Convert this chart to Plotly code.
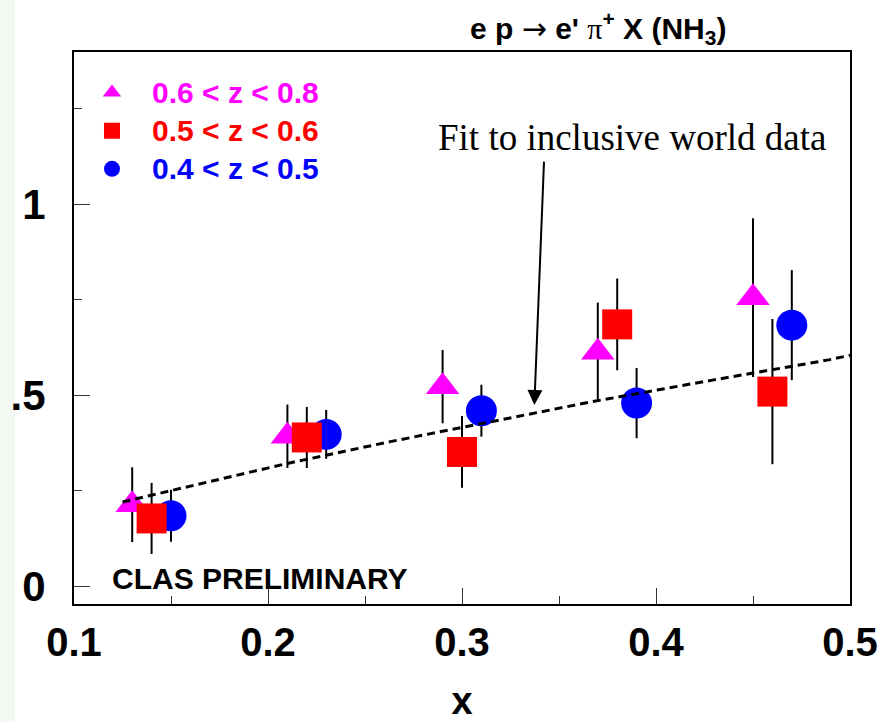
import plotly.graph_objects as go

# ---- data ----
x_tri = [0.13, 0.21, 0.29, 0.37, 0.45]
y_tri = [0.213, 0.392, 0.522, 0.612, 0.755]
e_tri = [0.098, 0.083, 0.096, 0.130, 0.208]

x_sq = [0.14, 0.22, 0.30, 0.38, 0.46]
y_sq = [0.177, 0.389, 0.351, 0.685, 0.509]
e_sq = [0.093, 0.080, 0.094, 0.120, 0.190]

x_ci = [0.15, 0.23, 0.31, 0.39, 0.47]
y_ci = [0.184, 0.397, 0.459, 0.479, 0.683]
e_ci = [0.068, 0.064, 0.068, 0.092, 0.144]

fit_x = [0.125, 0.21, 0.263, 0.3675, 0.429, 0.489, 0.5]
fit_y = [0.22, 0.321, 0.378, 0.483, 0.539, 0.592, 0.604]

x_ticks = [0.1, 0.2, 0.3, 0.4, 0.5]
x_ticktext = ["0.1", "0.2", "0.3", "0.4", "0.5"]
x_minor = [0.15, 0.25, 0.35, 0.45]
y_ticks = [0, 0.5, 1]
y_ticktext = ["0", ".5", "1"]
y_minor = [0.25, 0.75, 1.25]

labels = ["0.6 &lt; z &lt; 0.8", "0.5 &lt; z &lt; 0.6", "0.4 &lt; z &lt; 0.5"]

MAG, RED, BLUE = "#ff00ff", "#ff0000", "#0000ff"
SANS = "Liberation Sans, Arial, sans-serif"

err_style = dict(type="data", thickness=2, width=0, color="black")


def lname(color, text):
    return f'<span style="color:{color};font-size:30px">{text}</span>'


fig = go.Figure()
fig.add_trace(go.Scatter(
    x=x_tri, y=y_tri, mode="markers",
    error_y=dict(array=e_tri, **err_style),
    marker=dict(symbol="triangle-up", size=29, color=MAG, line=dict(width=0)),
    name=lname(MAG, labels[0]), legendrank=1))
fig.add_trace(go.Scatter(
    x=x_ci, y=y_ci, mode="markers",
    error_y=dict(array=e_ci, **err_style),
    marker=dict(symbol="circle", size=31, color=BLUE, line=dict(width=0)),
    name=lname(BLUE, labels[2]), legendrank=3))
fig.add_trace(go.Scatter(
    x=x_sq, y=y_sq, mode="markers",
    error_y=dict(array=e_sq, **err_style),
    marker=dict(symbol="square", size=30, color=RED, line=dict(width=0)),
    name=lname(RED, labels[1]), legendrank=2))
fig.add_trace(go.Scatter(
    x=fit_x, y=fit_y, mode="lines", showlegend=False,
    line=dict(color="black", width=3, dash="8px,5px")))

# arrow to the fit line
fig.add_annotation(x=0.3373, y=0.474, ax=0.3423, ay=1.115, xref="x", yref="y",
                   axref="x", ayref="y", text="", showarrow=True,
                   arrowhead=2, arrowsize=1.5, arrowwidth=2, arrowcolor="black")
fig.add_annotation(x=0.3875, y=1.173, xref="x", yref="y", text="Fit to inclusive world data",
                   showarrow=False, font=dict(family="Liberation Serif, Times New Roman, serif",
                                              size=37, color="black"),
                   xanchor="center", yanchor="middle")
fig.add_annotation(x=0.1185, y=0.021, xref="x", yref="y", text="CLAS PRELIMINARY",
                   showarrow=False, xanchor="left", yanchor="middle",
                   font=dict(family=SANS, size=30, color="black", weight="bold"))
fig.add_annotation(x=0.675, y=1.043, xref="paper", yref="paper",
                   text=("e p <span style=\"font-family:DejaVu Sans;font-weight:normal\">\u2192</span> "
                         "e' <span style=\"font-family:Liberation Serif;font-weight:normal\">\u03c0</span>"
                         "<sup>+</sup> X (NH<sub>3</sub>)"),
                   showarrow=False, xanchor="center", yanchor="middle",
                   font=dict(family=SANS, size=30, color="black", weight="bold"))

# light strip on far left of the image
fig.add_shape(type="rect", xref="paper", yref="paper",
              x0=-74 / 776, x1=(15 - 74) / 776, y0=-118 / 552, y1=1 + 52 / 552,
              fillcolor="#f3f8f3", line=dict(width=0), layer="below")

fig.update_layout(
    width=893, height=722,
    margin=dict(l=74, r=43, t=52, b=118),
    paper_bgcolor="white", plot_bgcolor="white",
    showlegend=True,
    legend=dict(x=-0.0026, y=0.97, xanchor="left", yanchor="top",
                bgcolor="rgba(0,0,0,0)", font=dict(family=SANS, size=27, weight="bold"),
                itemsizing="trace", itemwidth=70, tracegroupgap=0),
    xaxis=dict(range=[0.1, 0.5], tickmode="array", tickvals=x_ticks, ticktext=x_ticktext,
               ticks="inside", ticklen=16, tickwidth=1, tickcolor="#333",
               minor=dict(tickmode="array", tickvals=x_minor, ticks="inside", ticklen=8,
                          tickwidth=1, tickcolor="#333"),
               showline=True, linecolor="black", linewidth=2, mirror=True,
               showgrid=False, zeroline=False, ticklabelstandoff=2, automargin=False,
               tickfont=dict(family=SANS, size=40, color="black", weight="bold"),
               title=dict(text="x", standoff=30,
                          font=dict(family=SANS, size=38, color="black", weight="bold"))),
    yaxis=dict(range=[-0.047, 1.398], tickmode="array", tickvals=y_ticks, ticktext=y_ticktext,
               ticks="inside", ticklen=16, tickwidth=1, tickcolor="#333",
               minor=dict(tickmode="array", tickvals=y_minor, ticks="inside", ticklen=8,
                          tickwidth=1, tickcolor="#333"),
               showline=True, linecolor="black", linewidth=2, mirror=True,
               showgrid=False, zeroline=False, ticklabelstandoff=18, automargin=False,
               tickfont=dict(family=SANS, size=42, color="black", weight="bold")),
)

fig.write_html("out.html")
